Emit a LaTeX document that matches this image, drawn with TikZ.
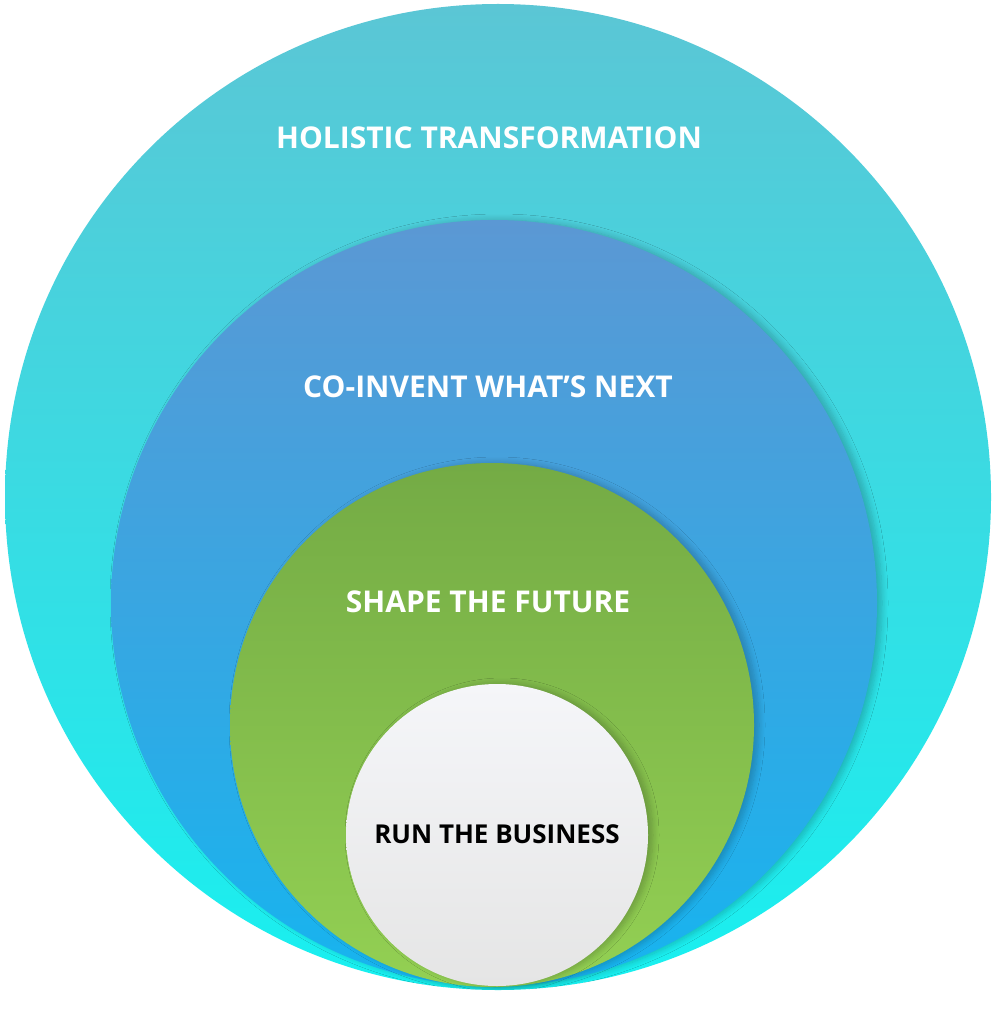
\documentclass[tikz,border=0pt]{standalone}
\usepackage{fontspec}
\setmainfont{Open Sans}
\usepackage{tikz}
\usetikzlibrary{shadows.blur}
\definecolor{cyantop}{HTML}{5BC6D5}
\definecolor{cyanbot}{HTML}{18F0F0}
\definecolor{bluetop}{HTML}{5B98D4}
\definecolor{bluebot}{HTML}{16B4EF}
\definecolor{greentop}{HTML}{74AB45}
\definecolor{greenbot}{HTML}{93D053}
\definecolor{whitetop}{HTML}{F5F6F9}
\definecolor{whitebot}{HTML}{E5E5E5}
\tikzset{ring/.style n args={2}{
    circle, draw=none, top color=#1, bottom color=#2, shading angle=0
  },
  ringshadow/.style={
    blur shadow={shadow xshift=5pt, shadow yshift=0pt, shadow blur steps=8,
      shadow blur radius=6pt, shadow opacity=22}
  },
  ringlabel/.style={font=\fontsize{30}{36}\selectfont\bfseries, text=white}
}

\begin{document}
\begin{tikzpicture}[x=1pt, y=-1pt]
      \useasboundingbox (0,0) rectangle (997,1024);
      \fill[white] (0,0) rectangle (997,1024);
      \path[ring={cyantop}{cyanbot}] (498,497) circle[radius=493];
      \begin{scope}
        \clip (498,497) circle[radius=493];
        \path[ring={bluetop}{bluebot}, ringshadow] (494,603) circle[radius=383];
        \path[ring={greentop}{greenbot}, ringshadow] (492,725) circle[radius=262];
        \path[ring={whitetop}{whitebot}, ringshadow] (497,835) circle[radius=151];
      \end{scope}
      \node[ringlabel] (hol) at (489,138) {HOLISTIC TRANSFORMATION};
      \node[ringlabel] (coinv) at (488,387) {CO-INVENT WHAT’S NEXT};
      \node[ringlabel] (shape) at (488,602) {SHAPE THE FUTURE};
      \node[ringlabel, text=black, font=\fontsize{26}{32}\selectfont\bfseries] (run) at (497,834) {RUN THE BUSINESS};
    \end{tikzpicture}
\end{document}
